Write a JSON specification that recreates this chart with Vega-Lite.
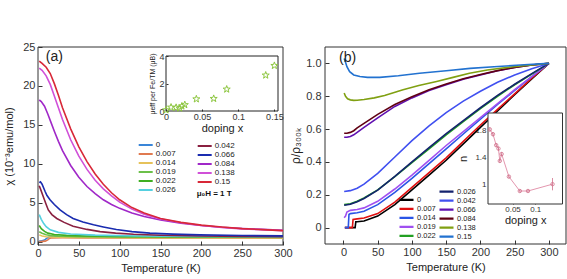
{
"$schema": "https://vega.github.io/schema/vega-lite/v6.json",
"width": 567, "height": 279,
"autosize": {"type": "none"},
"padding": 0,
"background": "white",
"config": {
 "view": {"stroke": null},
 "font": "Liberation Sans",
 "axis": {"labelFont": "Liberation Sans", "titleFont": "Liberation Sans", "labelColor": "#333", "titleColor": "#222", "tickColor": "#333", "titleFontWeight": "normal", "grid": false, "domain": false, "labelFlush": false, "labelOverlap": false},
 "legend": {"labelFont": "Liberation Sans", "titleFont": "Liberation Sans"}
},
"datasets": {
 "chiA1": [
  {"x":"0","T":1.5,"chi":0.1},{"x":"0","T":4,"chi":0.12},{"x":"0","T":7,"chi":0.2},{"x":"0","T":9,"chi":0.32},{"x":"0","T":11,"chi":0.48},{"x":"0","T":13,"chi":0.6},{"x":"0","T":16,"chi":0.65},{"x":"0","T":30,"chi":0.65},{"x":"0","T":60,"chi":0.62},{"x":"0","T":100,"chi":0.6},{"x":"0","T":150,"chi":0.58},{"x":"0","T":200,"chi":0.57},{"x":"0","T":250,"chi":0.56},{"x":"0","T":300,"chi":0.55},
  {"x":"0.007","T":1.5,"chi":0.05},{"x":"0.007","T":5,"chi":0.06},{"x":"0.007","T":9,"chi":0.1},{"x":"0.007","T":12,"chi":0.25},{"x":"0.007","T":14,"chi":0.45},{"x":"0.007","T":17,"chi":0.52},{"x":"0.007","T":30,"chi":0.53},{"x":"0.007","T":60,"chi":0.52},{"x":"0.007","T":100,"chi":0.51},{"x":"0.007","T":200,"chi":0.49},{"x":"0.007","T":300,"chi":0.47},
  {"x":"0.014","T":1.5,"chi":0.9},{"x":"0.014","T":5,"chi":0.75},{"x":"0.014","T":10,"chi":0.66},{"x":"0.014","T":20,"chi":0.61},{"x":"0.014","T":50,"chi":0.58},{"x":"0.014","T":100,"chi":0.55},{"x":"0.014","T":200,"chi":0.52},{"x":"0.014","T":300,"chi":0.5},
  {"x":"0.019","T":1.5,"chi":1.3},{"x":"0.019","T":5,"chi":1.1},{"x":"0.019","T":10,"chi":0.92},{"x":"0.019","T":15,"chi":0.82},{"x":"0.019","T":25,"chi":0.74},{"x":"0.019","T":50,"chi":0.68},{"x":"0.019","T":100,"chi":0.64},{"x":"0.019","T":200,"chi":0.6},{"x":"0.019","T":300,"chi":0.58},
  {"x":"0.022","T":1.5,"chi":2.1},{"x":"0.022","T":4,"chi":1.7},{"x":"0.022","T":8,"chi":1.35},{"x":"0.022","T":12,"chi":1.12},{"x":"0.022","T":20,"chi":0.95},{"x":"0.022","T":35,"chi":0.83},{"x":"0.022","T":60,"chi":0.76},{"x":"0.022","T":100,"chi":0.71},{"x":"0.022","T":200,"chi":0.66},{"x":"0.022","T":300,"chi":0.62},
  {"x":"0.026","T":1.5,"chi":3.5},{"x":"0.026","T":4,"chi":2.9},{"x":"0.026","T":7,"chi":2.35},{"x":"0.026","T":10,"chi":1.95},{"x":"0.026","T":15,"chi":1.55},{"x":"0.026","T":25,"chi":1.22},{"x":"0.026","T":40,"chi":1.02},{"x":"0.026","T":70,"chi":0.87},{"x":"0.026","T":120,"chi":0.76},{"x":"0.026","T":200,"chi":0.69},{"x":"0.026","T":300,"chi":0.64}
 ],
 "chiA2": [
  {"x":"0.042","T":1.5,"chi":7.2},{"x":"0.042","T":3,"chi":6.8},{"x":"0.042","T":6.5,"chi":5.8},{"x":"0.042","T":10,"chi":4.8},{"x":"0.042","T":12.6,"chi":4.1},{"x":"0.042","T":17,"chi":3.5},{"x":"0.042","T":23,"chi":3.0},{"x":"0.042","T":32,"chi":2.5},{"x":"0.042","T":43,"chi":2.0},{"x":"0.042","T":60,"chi":1.6},{"x":"0.042","T":76,"chi":1.32},{"x":"0.042","T":95,"chi":1.12},{"x":"0.042","T":117,"chi":0.97},{"x":"0.042","T":150,"chi":0.86},{"x":"0.042","T":200,"chi":0.76},{"x":"0.042","T":250,"chi":0.7},{"x":"0.042","T":300,"chi":0.66},
  {"x":"0.066","T":1.5,"chi":7.6},{"x":"0.066","T":3,"chi":7.7},{"x":"0.066","T":5,"chi":7.4},{"x":"0.066","T":8.6,"chi":6.5},{"x":"0.066","T":11,"chi":5.95},{"x":"0.066","T":14.7,"chi":5.4},{"x":"0.066","T":20,"chi":4.8},{"x":"0.066","T":27,"chi":4.1},{"x":"0.066","T":35,"chi":3.5},{"x":"0.066","T":43,"chi":3.0},{"x":"0.066","T":55,"chi":2.55},{"x":"0.066","T":68,"chi":2.2},{"x":"0.066","T":80,"chi":1.92},{"x":"0.066","T":96,"chi":1.58},{"x":"0.066","T":115,"chi":1.32},{"x":"0.066","T":137,"chi":1.12},{"x":"0.066","T":165,"chi":0.99},{"x":"0.066","T":198,"chi":0.9},{"x":"0.066","T":250,"chi":0.82},{"x":"0.066","T":300,"chi":0.77},
  {"x":"0.084","T":1.5,"chi":18.2},{"x":"0.084","T":4,"chi":18.0},{"x":"0.084","T":8,"chi":17.4},{"x":"0.084","T":12,"chi":16.4},{"x":"0.084","T":16,"chi":15.3},{"x":"0.084","T":20,"chi":14.2},{"x":"0.084","T":25,"chi":12.9},{"x":"0.084","T":30,"chi":11.7},{"x":"0.084","T":40,"chi":9.8},{"x":"0.084","T":50,"chi":8.3},{"x":"0.084","T":60,"chi":7.1},{"x":"0.084","T":70,"chi":6.2},{"x":"0.084","T":80,"chi":5.4},{"x":"0.084","T":90,"chi":4.8},{"x":"0.084","T":100,"chi":4.3},{"x":"0.084","T":115,"chi":3.7},{"x":"0.084","T":130,"chi":3.25},{"x":"0.084","T":150,"chi":2.8},{"x":"0.084","T":175,"chi":2.4},{"x":"0.084","T":200,"chi":2.1},{"x":"0.084","T":225,"chi":1.88},{"x":"0.084","T":250,"chi":1.72},{"x":"0.084","T":275,"chi":1.6},{"x":"0.084","T":300,"chi":1.5},
  {"x":"0.138","T":1.5,"chi":22.3},{"x":"0.138","T":5,"chi":22.0},{"x":"0.138","T":10,"chi":21.3},{"x":"0.138","T":15,"chi":20.2},{"x":"0.138","T":20,"chi":18.7},{"x":"0.138","T":25,"chi":17.2},{"x":"0.138","T":30,"chi":15.7},{"x":"0.138","T":40,"chi":13.1},{"x":"0.138","T":50,"chi":11.0},{"x":"0.138","T":60,"chi":9.3},{"x":"0.138","T":70,"chi":7.9},{"x":"0.138","T":80,"chi":6.8},{"x":"0.138","T":90,"chi":5.9},{"x":"0.138","T":100,"chi":5.1},{"x":"0.138","T":115,"chi":4.2},{"x":"0.138","T":130,"chi":3.55},{"x":"0.138","T":150,"chi":2.95},{"x":"0.138","T":175,"chi":2.45},{"x":"0.138","T":200,"chi":2.1},{"x":"0.138","T":225,"chi":1.85},{"x":"0.138","T":250,"chi":1.67},{"x":"0.138","T":275,"chi":1.55},{"x":"0.138","T":300,"chi":1.45},
  {"x":"0.15","T":1.5,"chi":23.2},{"x":"0.15","T":5,"chi":22.9},{"x":"0.15","T":10,"chi":22.4},{"x":"0.15","T":15,"chi":21.6},{"x":"0.15","T":20,"chi":20.3},{"x":"0.15","T":25,"chi":18.8},{"x":"0.15","T":30,"chi":17.2},{"x":"0.15","T":40,"chi":14.5},{"x":"0.15","T":50,"chi":12.2},{"x":"0.15","T":60,"chi":10.3},{"x":"0.15","T":70,"chi":8.7},{"x":"0.15","T":80,"chi":7.4},{"x":"0.15","T":90,"chi":6.3},{"x":"0.15","T":100,"chi":5.4},{"x":"0.15","T":115,"chi":4.4},{"x":"0.15","T":130,"chi":3.7},{"x":"0.15","T":150,"chi":3.0},{"x":"0.15","T":175,"chi":2.5},{"x":"0.15","T":200,"chi":2.15},{"x":"0.15","T":225,"chi":1.9},{"x":"0.15","T":250,"chi":1.7},{"x":"0.15","T":275,"chi":1.57},{"x":"0.15","T":300,"chi":1.45}
 ],
 "rhoB1": [
  {"x":"0","T":2,"rho":0},{"x":"0","T":17,"rho":0},{"x":"0","T":18,"rho":0.035},{"x":"0","T":20,"rho":0.036},{"x":"0","T":30,"rho":0.04},{"x":"0","T":50,"rho":0.07},{"x":"0","T":75,"rho":0.14},{"x":"0","T":100,"rho":0.23},{"x":"0","T":125,"rho":0.32},{"x":"0","T":150,"rho":0.41},{"x":"0","T":175,"rho":0.51},{"x":"0","T":200,"rho":0.61},{"x":"0","T":225,"rho":0.71},{"x":"0","T":250,"rho":0.81},{"x":"0","T":275,"rho":0.905},{"x":"0","T":300,"rho":1.0},
  {"x":"0.007","T":2,"rho":0},{"x":"0.007","T":13,"rho":0},{"x":"0.007","T":14,"rho":0.05},{"x":"0.007","T":20,"rho":0.053},{"x":"0.007","T":30,"rho":0.058},{"x":"0.007","T":50,"rho":0.085},{"x":"0.007","T":75,"rho":0.155},{"x":"0.007","T":100,"rho":0.245},{"x":"0.007","T":125,"rho":0.335},{"x":"0.007","T":150,"rho":0.425},{"x":"0.007","T":175,"rho":0.525},{"x":"0.007","T":200,"rho":0.625},{"x":"0.007","T":225,"rho":0.72},{"x":"0.007","T":250,"rho":0.815},{"x":"0.007","T":275,"rho":0.91},{"x":"0.007","T":300,"rho":1.0},
  {"x":"0.014","T":2,"rho":0},{"x":"0.014","T":7,"rho":0},{"x":"0.014","T":8,"rho":0.08},{"x":"0.014","T":10,"rho":0.085},{"x":"0.014","T":20,"rho":0.09},{"x":"0.014","T":30,"rho":0.1},{"x":"0.014","T":50,"rho":0.14},{"x":"0.014","T":75,"rho":0.215},{"x":"0.014","T":100,"rho":0.3},{"x":"0.014","T":125,"rho":0.39},{"x":"0.014","T":150,"rho":0.48},{"x":"0.014","T":175,"rho":0.57},{"x":"0.014","T":200,"rho":0.66},{"x":"0.014","T":225,"rho":0.75},{"x":"0.014","T":250,"rho":0.835},{"x":"0.014","T":275,"rho":0.92},{"x":"0.014","T":300,"rho":1.0},
  {"x":"0.019","T":1,"rho":0.06},{"x":"0.019","T":3,"rho":0.07},{"x":"0.019","T":5,"rho":0.095},{"x":"0.019","T":10,"rho":0.105},{"x":"0.019","T":20,"rho":0.11},{"x":"0.019","T":30,"rho":0.12},{"x":"0.019","T":50,"rho":0.16},{"x":"0.019","T":75,"rho":0.235},{"x":"0.019","T":100,"rho":0.32},{"x":"0.019","T":125,"rho":0.41},{"x":"0.019","T":150,"rho":0.5},{"x":"0.019","T":175,"rho":0.585},{"x":"0.019","T":200,"rho":0.67},{"x":"0.019","T":225,"rho":0.755},{"x":"0.019","T":250,"rho":0.84},{"x":"0.019","T":275,"rho":0.92},{"x":"0.019","T":300,"rho":1.0},
  {"x":"0.022","T":1,"rho":0.14},{"x":"0.022","T":10,"rho":0.145},{"x":"0.022","T":20,"rho":0.16},{"x":"0.022","T":30,"rho":0.18},{"x":"0.022","T":50,"rho":0.23},{"x":"0.022","T":75,"rho":0.31},{"x":"0.022","T":100,"rho":0.395},{"x":"0.022","T":125,"rho":0.48},{"x":"0.022","T":150,"rho":0.565},{"x":"0.022","T":175,"rho":0.645},{"x":"0.022","T":200,"rho":0.725},{"x":"0.022","T":225,"rho":0.8},{"x":"0.022","T":250,"rho":0.87},{"x":"0.022","T":275,"rho":0.935},{"x":"0.022","T":300,"rho":1.0}
 ],
 "rhoB2": [
  {"x":"0.026","T":1,"rho":0.136},{"x":"0.026","T":10,"rho":0.142},{"x":"0.026","T":20,"rho":0.157},{"x":"0.026","T":30,"rho":0.177},{"x":"0.026","T":50,"rho":0.228},{"x":"0.026","T":75,"rho":0.312},{"x":"0.026","T":100,"rho":0.4},{"x":"0.026","T":125,"rho":0.487},{"x":"0.026","T":150,"rho":0.572},{"x":"0.026","T":175,"rho":0.652},{"x":"0.026","T":200,"rho":0.73},{"x":"0.026","T":225,"rho":0.805},{"x":"0.026","T":250,"rho":0.873},{"x":"0.026","T":275,"rho":0.938},{"x":"0.026","T":300,"rho":1.0},
  {"x":"0.042","T":1,"rho":0.22},{"x":"0.042","T":10,"rho":0.225},{"x":"0.042","T":20,"rho":0.24},{"x":"0.042","T":30,"rho":0.265},{"x":"0.042","T":50,"rho":0.33},{"x":"0.042","T":75,"rho":0.43},{"x":"0.042","T":100,"rho":0.53},{"x":"0.042","T":125,"rho":0.62},{"x":"0.042","T":150,"rho":0.7},{"x":"0.042","T":175,"rho":0.77},{"x":"0.042","T":200,"rho":0.83},{"x":"0.042","T":225,"rho":0.885},{"x":"0.042","T":250,"rho":0.93},{"x":"0.042","T":275,"rho":0.967},{"x":"0.042","T":300,"rho":1.0},
  {"x":"0.066","T":1,"rho":0.55},{"x":"0.066","T":5,"rho":0.55},{"x":"0.066","T":10,"rho":0.555},{"x":"0.066","T":15,"rho":0.565},{"x":"0.066","T":20,"rho":0.58},{"x":"0.066","T":30,"rho":0.61},{"x":"0.066","T":50,"rho":0.668},{"x":"0.066","T":75,"rho":0.738},{"x":"0.066","T":100,"rho":0.79},{"x":"0.066","T":125,"rho":0.835},{"x":"0.066","T":150,"rho":0.87},{"x":"0.066","T":175,"rho":0.903},{"x":"0.066","T":200,"rho":0.93},{"x":"0.066","T":225,"rho":0.955},{"x":"0.066","T":250,"rho":0.975},{"x":"0.066","T":275,"rho":0.99},{"x":"0.066","T":300,"rho":1.0},
  {"x":"0.084","T":1,"rho":0.575},{"x":"0.084","T":5,"rho":0.575},{"x":"0.084","T":10,"rho":0.58},{"x":"0.084","T":15,"rho":0.59},{"x":"0.084","T":20,"rho":0.607},{"x":"0.084","T":30,"rho":0.635},{"x":"0.084","T":50,"rho":0.69},{"x":"0.084","T":75,"rho":0.75},{"x":"0.084","T":100,"rho":0.797},{"x":"0.084","T":125,"rho":0.84},{"x":"0.084","T":150,"rho":0.875},{"x":"0.084","T":175,"rho":0.906},{"x":"0.084","T":200,"rho":0.932},{"x":"0.084","T":225,"rho":0.956},{"x":"0.084","T":250,"rho":0.976},{"x":"0.084","T":275,"rho":0.99},{"x":"0.084","T":300,"rho":1.0},
  {"x":"0.138","T":1,"rho":0.82},{"x":"0.138","T":3,"rho":0.8},{"x":"0.138","T":6,"rho":0.785},{"x":"0.138","T":10,"rho":0.778},{"x":"0.138","T":15,"rho":0.775},{"x":"0.138","T":20,"rho":0.776},{"x":"0.138","T":30,"rho":0.78},{"x":"0.138","T":45,"rho":0.79},{"x":"0.138","T":60,"rho":0.805},{"x":"0.138","T":87,"rho":0.84},{"x":"0.138","T":110,"rho":0.865},{"x":"0.138","T":136,"rho":0.89},{"x":"0.138","T":160,"rho":0.915},{"x":"0.138","T":184,"rho":0.94},{"x":"0.138","T":210,"rho":0.96},{"x":"0.138","T":248,"rho":0.98},{"x":"0.138","T":275,"rho":0.99},{"x":"0.138","T":300,"rho":1.0},
  {"x":"0.15","T":1,"rho":1.03},{"x":"0.15","T":2,"rho":1.02},{"x":"0.15","T":5,"rho":0.98},{"x":"0.15","T":9,"rho":0.95},{"x":"0.15","T":15,"rho":0.93},{"x":"0.15","T":24,"rho":0.92},{"x":"0.15","T":35,"rho":0.915},{"x":"0.15","T":53,"rho":0.915},{"x":"0.15","T":80,"rho":0.925},{"x":"0.15","T":111,"rho":0.94},{"x":"0.15","T":150,"rho":0.955},{"x":"0.15","T":185,"rho":0.97},{"x":"0.15","T":220,"rho":0.98},{"x":"0.15","T":258,"rho":0.99},{"x":"0.15","T":300,"rho":1.0}
 ],
 "mu": [
  {"doping":0,"mu":0.07},{"doping":0.007,"mu":0.27},{"doping":0.014,"mu":0.25},{"doping":0.019,"mu":0.2},{"doping":0.022,"mu":0.35},{"doping":0.026,"mu":0.45},{"doping":0.042,"mu":0.87},{"doping":0.066,"mu":0.9},{"doping":0.084,"mu":1.58},{"doping":0.138,"mu":2.6},{"doping":0.15,"mu":3.3}
 ],
 "nexp": [
  {"doping":0,"n":1.81,"lo":1.78,"hi":1.84},{"doping":0.007,"n":1.74,"lo":1.71,"hi":1.77},{"doping":0.014,"n":1.58,"lo":1.55,"hi":1.61},{"doping":0.019,"n":1.53,"lo":1.5,"hi":1.56},{"doping":0.022,"n":1.35,"lo":1.32,"hi":1.38},{"doping":0.026,"n":1.45,"lo":1.42,"hi":1.48},{"doping":0.042,"n":1.12,"lo":1.1,"hi":1.14},{"doping":0.066,"n":0.91,"lo":0.89,"hi":0.93},{"doping":0.084,"n":0.91,"lo":0.89,"hi":0.93},{"doping":0.138,"n":1.01,"lo":0.92,"hi":1.1}
 ]
},
"layer": [
 {
  "layer": [
   {
    "data": {"values": [{}]},
    "mark": {"type": "rect", "fillOpacity": 0, "stroke": "#333", "strokeWidth": 1},
    "encoding": {
     "x": {"datum": 0, "type": "quantitative", "scale": {"domain": [0, 300], "range": [38, 283], "nice": false, "zero": false},
       "axis": {"orient": "bottom", "offset": -34, "values": [0,50,100,150,200,250,300], "title": "Temperature (K)", "tickSize": -4, "labelPadding": 6.5, "labelFontSize": 11, "titleFontSize": 11, "titlePadding": 4}},
     "x2": {"datum": 300},
     "y": {"datum": -0.4, "type": "quantitative", "scale": {"domain": [-0.4, 25], "range": [245, 47], "nice": false, "zero": false},
       "axis": {"orient": "left", "offset": -38, "values": [0,5,10,15,20,25], "title": "χ (10⁻³emu/mol)", "tickSize": -4, "labelPadding": 7, "labelFontSize": 11, "titleFontSize": 11, "titlePadding": 8}},
     "y2": {"datum": 25}
    }
   },
   {
    "data": {"name": "chiA1"},
    "mark": {"type": "line", "strokeWidth": 1.6},
    "encoding": {
     "x": {"field": "T", "type": "quantitative", "scale": {"domain": [0, 300], "range": [38, 283], "nice": false, "zero": false},
       "axis": {"orient": "bottom", "offset": -34, "values": [0,50,100,150,200,250,300], "title": "Temperature (K)", "tickSize": -4, "labelPadding": 6.5, "labelFontSize": 11, "titleFontSize": 11, "titlePadding": 4}},
     "y": {"field": "chi", "type": "quantitative", "scale": {"domain": [-0.4, 25], "range": [245, 47], "nice": false, "zero": false},
       "axis": {"orient": "left", "offset": -38, "values": [0,5,10,15,20,25], "title": "χ (10⁻³emu/mol)", "tickSize": -4, "labelPadding": 7, "labelFontSize": 11, "titleFontSize": 11, "titlePadding": 8}},
     "color": {"field": "x", "type": "nominal",
       "scale": {"domain": ["0","0.007","0.014","0.019","0.022","0.026"], "range": ["#3a86d8","#e07a50","#e6c25a","#6cc04a","#3fae22","#55d0e0"]},
       "legend": {"orient": "none", "legendX": 137.7, "legendY": 140.5, "title": null, "symbolType": "stroke", "symbolSize": 196, "symbolStrokeWidth": 2, "labelFontSize": 8, "labelOffset": 2, "clipHeight": 9, "rowPadding": 0, "padding": 0, "labelColor": "#222"}}
    }
   },
   {
    "data": {"name": "chiA2"},
    "mark": {"type": "line", "strokeWidth": 1.6},
    "encoding": {
     "x": {"field": "T", "type": "quantitative", "scale": {"domain": [0, 300], "range": [38, 283], "nice": false, "zero": false},
       "axis": {"orient": "bottom", "offset": -34, "values": [0,50,100,150,200,250,300], "title": "Temperature (K)", "tickSize": -4, "labelPadding": 6.5, "labelFontSize": 11, "titleFontSize": 11, "titlePadding": 4}},
     "y": {"field": "chi", "type": "quantitative", "scale": {"domain": [-0.4, 25], "range": [245, 47], "nice": false, "zero": false},
       "axis": {"orient": "left", "offset": -38, "values": [0,5,10,15,20,25], "title": "χ (10⁻³emu/mol)", "tickSize": -4, "labelPadding": 7, "labelFontSize": 11, "titleFontSize": 11, "titlePadding": 8}},
     "color": {"field": "x", "type": "nominal",
       "scale": {"domain": ["0.042","0.066","0.084","0.138","0.15"], "range": ["#8a2040","#1a2cb0","#a028c8","#d050d8","#d82838"]},
       "legend": {"orient": "none", "legendX": 196.7, "legendY": 141.5, "title": "μ₀H = 1 T", "titleOrient": "bottom", "titleAnchor": "start", "titleFontSize": 8, "titleFontWeight": "bold", "titlePadding": 3, "titleColor": "#111", "symbolType": "stroke", "symbolSize": 196, "symbolStrokeWidth": 2, "labelFontSize": 8, "labelOffset": 2, "clipHeight": 9, "rowPadding": 0, "padding": 0, "labelColor": "#222"}}
    }
   },
   {
    "data": {"values": [{"label": "(a)"}]},
    "mark": {"type": "text", "fontSize": 14, "color": "#222", "align": "center", "baseline": "middle"},
    "encoding": {
     "x": {"datum": 20, "type": "quantitative", "scale": {"domain": [0, 300], "range": [38, 283], "nice": false, "zero": false},
       "axis": {"orient": "bottom", "offset": -34, "values": [0,50,100,150,200,250,300], "title": "Temperature (K)", "tickSize": -4, "labelPadding": 6.5, "labelFontSize": 11, "titleFontSize": 11, "titlePadding": 4}},
     "y": {"datum": 23.75, "type": "quantitative", "scale": {"domain": [-0.4, 25], "range": [245, 47], "nice": false, "zero": false},
       "axis": {"orient": "left", "offset": -38, "values": [0,5,10,15,20,25], "title": "χ (10⁻³emu/mol)", "tickSize": -4, "labelPadding": 7, "labelFontSize": 11, "titleFontSize": 11, "titlePadding": 8}},
     "text": {"field": "label"}
    }
   }
  ],
  "resolve": {"scale": {"color": "independent"}, "legend": {"color": "independent"}}
 },
 {
  "layer": [
   {
    "data": {"values": [{}]},
    "mark": {"type": "rect", "fillOpacity": 0, "stroke": "#222", "strokeWidth": 1},
    "encoding": {
     "x": {"datum": 0, "type": "quantitative", "scale": {"domain": [0, 0.155], "range": [166, 278], "nice": false, "zero": false},
       "axis": {"orient": "bottom", "offset": -168, "values": [0, 0.05, 0.1, 0.15], "format": "~g", "title": "doping x", "tickSize": -2, "labelPadding": 3, "labelFontSize": 9, "titleFontSize": 11, "titlePadding": 1}},
     "x2": {"datum": 0.155},
     "y": {"datum": 0, "type": "quantitative", "scale": {"domain": [0, 4], "range": [111, 56], "nice": false, "zero": false},
       "axis": {"orient": "left", "offset": -166, "values": [0, 2, 4], "title": "μeff per Fe/TM (μB)", "tickSize": -2, "labelPadding": 4, "labelFontSize": 9, "titleFontSize": 7, "titlePadding": 3}},
     "y2": {"datum": 4}
    }
   },
   {
    "data": {"name": "mu"},
    "mark": {"type": "point", "shape": "M0,-1L0.235,-0.324L0.951,-0.309L0.38,0.124L0.588,0.809L0,0.4L-0.588,0.809L-0.38,0.124L-0.951,-0.309L-0.235,-0.324Z", "size": 55, "filled": false, "stroke": "#8dc63f", "strokeWidth": 1, "opacity": 1},
    "encoding": {
     "x": {"field": "doping", "type": "quantitative", "scale": {"domain": [0, 0.155], "range": [166, 278], "nice": false, "zero": false},
       "axis": {"orient": "bottom", "offset": -168, "values": [0, 0.05, 0.1, 0.15], "format": "~g", "title": "doping x", "tickSize": -2, "labelPadding": 3, "labelFontSize": 9, "titleFontSize": 11, "titlePadding": 1}},
     "y": {"field": "mu", "type": "quantitative", "scale": {"domain": [0, 4], "range": [111, 56], "nice": false, "zero": false},
       "axis": {"orient": "left", "offset": -166, "values": [0, 2, 4], "title": "μeff per Fe/TM (μB)", "tickSize": -2, "labelPadding": 4, "labelFontSize": 9, "titleFontSize": 7, "titlePadding": 3}}
    }
   }
  ]
 },
 {
  "layer": [
   {
    "data": {"values": [{}]},
    "mark": {"type": "rect", "fillOpacity": 0, "stroke": "#333", "strokeWidth": 1},
    "encoding": {
     "x": {"datum": -27, "type": "quantitative", "scale": {"domain": [-27, 325], "range": [325, 566], "nice": false, "zero": false},
       "axis": {"orient": "bottom", "offset": -35, "values": [0,50,100,150,200,250,300], "title": "Temperature (K)", "tickSize": -4, "labelPadding": 6, "labelFontSize": 11, "titleFontSize": 11, "titlePadding": 4}},
     "x2": {"datum": 325},
     "y": {"datum": -0.1, "type": "quantitative", "scale": {"domain": [-0.1, 1.1], "range": [244, 47], "nice": false, "zero": false},
       "axis": {"orient": "left", "offset": -325, "values": [0, 0.2, 0.4, 0.6, 0.8, 1.0], "labelExpr": "datum.value === 0 ? '0' : format(datum.value, '.1f')", "title": "ρ/ρ₃₀₀ₖ", "tickSize": -4, "labelPadding": 8, "labelFontSize": 11, "titleFontSize": 12, "titlePadding": 3}},
     "y2": {"datum": 1.1}
    }
   },
   {
    "data": {"name": "rhoB1"},
    "mark": {"type": "line", "strokeWidth": 1.6},
    "encoding": {
     "x": {"field": "T", "type": "quantitative", "scale": {"domain": [-27, 325], "range": [325, 566], "nice": false, "zero": false},
       "axis": {"orient": "bottom", "offset": -35, "values": [0,50,100,150,200,250,300], "title": "Temperature (K)", "tickSize": -4, "labelPadding": 6, "labelFontSize": 11, "titleFontSize": 11, "titlePadding": 4}},
     "y": {"field": "rho", "type": "quantitative", "scale": {"domain": [-0.1, 1.1], "range": [244, 47], "nice": false, "zero": false},
       "axis": {"orient": "left", "offset": -325, "values": [0, 0.2, 0.4, 0.6, 0.8, 1.0], "labelExpr": "datum.value === 0 ? '0' : format(datum.value, '.1f')", "title": "ρ/ρ₃₀₀ₖ", "tickSize": -4, "labelPadding": 8, "labelFontSize": 11, "titleFontSize": 12, "titlePadding": 3}},
     "color": {"field": "x", "type": "nominal",
       "scale": {"domain": ["0","0.007","0.014","0.019","0.022"], "range": ["#000000","#e01010","#2a55e6","#a050f0","#22a022"]},
       "legend": {"orient": "none", "legendX": 398, "legendY": 195.6, "title": null, "symbolType": "stroke", "symbolSize": 196, "symbolStrokeWidth": 2.2, "labelFontSize": 7.5, "labelOffset": 2, "clipHeight": 8.7, "rowPadding": 0, "padding": 0, "labelColor": "#222"}}
    }
   },
   {
    "data": {"name": "rhoB2"},
    "mark": {"type": "line", "strokeWidth": 1.6},
    "encoding": {
     "x": {"field": "T", "type": "quantitative", "scale": {"domain": [-27, 325], "range": [325, 566], "nice": false, "zero": false},
       "axis": {"orient": "bottom", "offset": -35, "values": [0,50,100,150,200,250,300], "title": "Temperature (K)", "tickSize": -4, "labelPadding": 6, "labelFontSize": 11, "titleFontSize": 11, "titlePadding": 4}},
     "y": {"field": "rho", "type": "quantitative", "scale": {"domain": [-0.1, 1.1], "range": [244, 47], "nice": false, "zero": false},
       "axis": {"orient": "left", "offset": -325, "values": [0, 0.2, 0.4, 0.6, 0.8, 1.0], "labelExpr": "datum.value === 0 ? '0' : format(datum.value, '.1f')", "title": "ρ/ρ₃₀₀ₖ", "tickSize": -4, "labelPadding": 8, "labelFontSize": 11, "titleFontSize": 12, "titlePadding": 3}},
     "color": {"field": "x", "type": "nominal",
       "scale": {"domain": ["0.026","0.042","0.066","0.084","0.138","0.15"], "range": ["#14226e","#4050f0","#6010b0","#600012","#80a012","#2272d0"]},
       "legend": {"orient": "none", "legendX": 438, "legendY": 187.3, "title": null, "symbolType": "stroke", "symbolSize": 196, "symbolStrokeWidth": 2.2, "labelFontSize": 7.5, "labelOffset": 2, "clipHeight": 8.7, "rowPadding": 0, "padding": 0, "labelColor": "#222"}}
    }
   },
   {
    "data": {"values": [{"label": "(b)"}]},
    "mark": {"type": "text", "fontSize": 14, "color": "#222", "align": "center", "baseline": "middle"},
    "encoding": {
     "x": {"datum": 6, "type": "quantitative", "scale": {"domain": [-27, 325], "range": [325, 566], "nice": false, "zero": false},
       "axis": {"orient": "bottom", "offset": -35, "values": [0,50,100,150,200,250,300], "title": "Temperature (K)", "tickSize": -4, "labelPadding": 6, "labelFontSize": 11, "titleFontSize": 11, "titlePadding": 4}},
     "y": {"datum": 1.035, "type": "quantitative", "scale": {"domain": [-0.1, 1.1], "range": [244, 47], "nice": false, "zero": false},
       "axis": {"orient": "left", "offset": -325, "values": [0, 0.2, 0.4, 0.6, 0.8, 1.0], "labelExpr": "datum.value === 0 ? '0' : format(datum.value, '.1f')", "title": "ρ/ρ₃₀₀ₖ", "tickSize": -4, "labelPadding": 8, "labelFontSize": 11, "titleFontSize": 12, "titlePadding": 3}},
     "text": {"field": "label"}
    }
   }
  ],
  "resolve": {"scale": {"color": "independent"}, "legend": {"color": "independent"}}
 },
 {
  "layer": [
   {
    "data": {"values": [{}]},
    "mark": {"type": "rect", "fill": "white", "stroke": "#333", "strokeWidth": 1},
    "encoding": {
     "x": {"datum": -0.004, "type": "quantitative", "scale": {"domain": [-0.004, 0.16], "range": [488, 562.5], "nice": false, "zero": false},
       "axis": {"orient": "bottom", "offset": -75, "values": [0.05, 0.1], "format": "~g", "title": "doping x", "tickSize": -2, "labelPadding": 3, "labelFontSize": 8, "titleFontSize": 11, "titlePadding": 1}},
     "x2": {"datum": 0.16},
     "y": {"datum": 0.72, "type": "quantitative", "scale": {"domain": [0.72, 2.05], "range": [204, 113], "nice": false, "zero": false},
       "axis": {"orient": "left", "offset": -488, "values": [1, 1.4, 1.8], "format": "~g", "title": "n", "tickSize": -2, "labelPadding": 4, "labelFontSize": 8, "titleFontSize": 11, "titlePadding": 6}},
     "y2": {"datum": 2.05}
    }
   },
   {
    "data": {"name": "nexp"},
    "mark": {"type": "line", "color": "#e08aa5", "strokeWidth": 0.9},
    "encoding": {
     "x": {"field": "doping", "type": "quantitative", "scale": {"domain": [-0.004, 0.16], "range": [488, 562.5], "nice": false, "zero": false},
       "axis": {"orient": "bottom", "offset": -75, "values": [0.05, 0.1], "format": "~g", "title": "doping x", "tickSize": -2, "labelPadding": 3, "labelFontSize": 8, "titleFontSize": 11, "titlePadding": 1}},
     "y": {"field": "n", "type": "quantitative", "scale": {"domain": [0.72, 2.05], "range": [204, 113], "nice": false, "zero": false},
       "axis": {"orient": "left", "offset": -488, "values": [1, 1.4, 1.8], "format": "~g", "title": "n", "tickSize": -2, "labelPadding": 4, "labelFontSize": 8, "titleFontSize": 11, "titlePadding": 6}}
    }
   },
   {
    "data": {"name": "nexp"},
    "mark": {"type": "rule", "color": "#d0708a", "strokeWidth": 0.8},
    "encoding": {
     "x": {"field": "doping", "type": "quantitative", "scale": {"domain": [-0.004, 0.16], "range": [488, 562.5], "nice": false, "zero": false},
       "axis": {"orient": "bottom", "offset": -75, "values": [0.05, 0.1], "format": "~g", "title": "doping x", "tickSize": -2, "labelPadding": 3, "labelFontSize": 8, "titleFontSize": 11, "titlePadding": 1}},
     "y": {"field": "lo", "type": "quantitative", "scale": {"domain": [0.72, 2.05], "range": [204, 113], "nice": false, "zero": false},
       "axis": {"orient": "left", "offset": -488, "values": [1, 1.4, 1.8], "format": "~g", "title": "n", "tickSize": -2, "labelPadding": 4, "labelFontSize": 8, "titleFontSize": 11, "titlePadding": 6}},
     "y2": {"field": "hi"}
    }
   },
   {
    "data": {"name": "nexp"},
    "mark": {"type": "point", "shape": "circle", "size": 12, "filled": false, "stroke": "#d0708a", "strokeWidth": 0.8, "opacity": 1},
    "encoding": {
     "x": {"field": "doping", "type": "quantitative", "scale": {"domain": [-0.004, 0.16], "range": [488, 562.5], "nice": false, "zero": false},
       "axis": {"orient": "bottom", "offset": -75, "values": [0.05, 0.1], "format": "~g", "title": "doping x", "tickSize": -2, "labelPadding": 3, "labelFontSize": 8, "titleFontSize": 11, "titlePadding": 1}},
     "y": {"field": "n", "type": "quantitative", "scale": {"domain": [0.72, 2.05], "range": [204, 113], "nice": false, "zero": false},
       "axis": {"orient": "left", "offset": -488, "values": [1, 1.4, 1.8], "format": "~g", "title": "n", "tickSize": -2, "labelPadding": 4, "labelFontSize": 8, "titleFontSize": 11, "titlePadding": 6}}
    }
   }
  ]
 }
],
"resolve": {"scale": {"x": "independent", "y": "independent", "color": "independent"}, "axis": {"x": "independent", "y": "independent"}, "legend": {"color": "independent"}}
}
